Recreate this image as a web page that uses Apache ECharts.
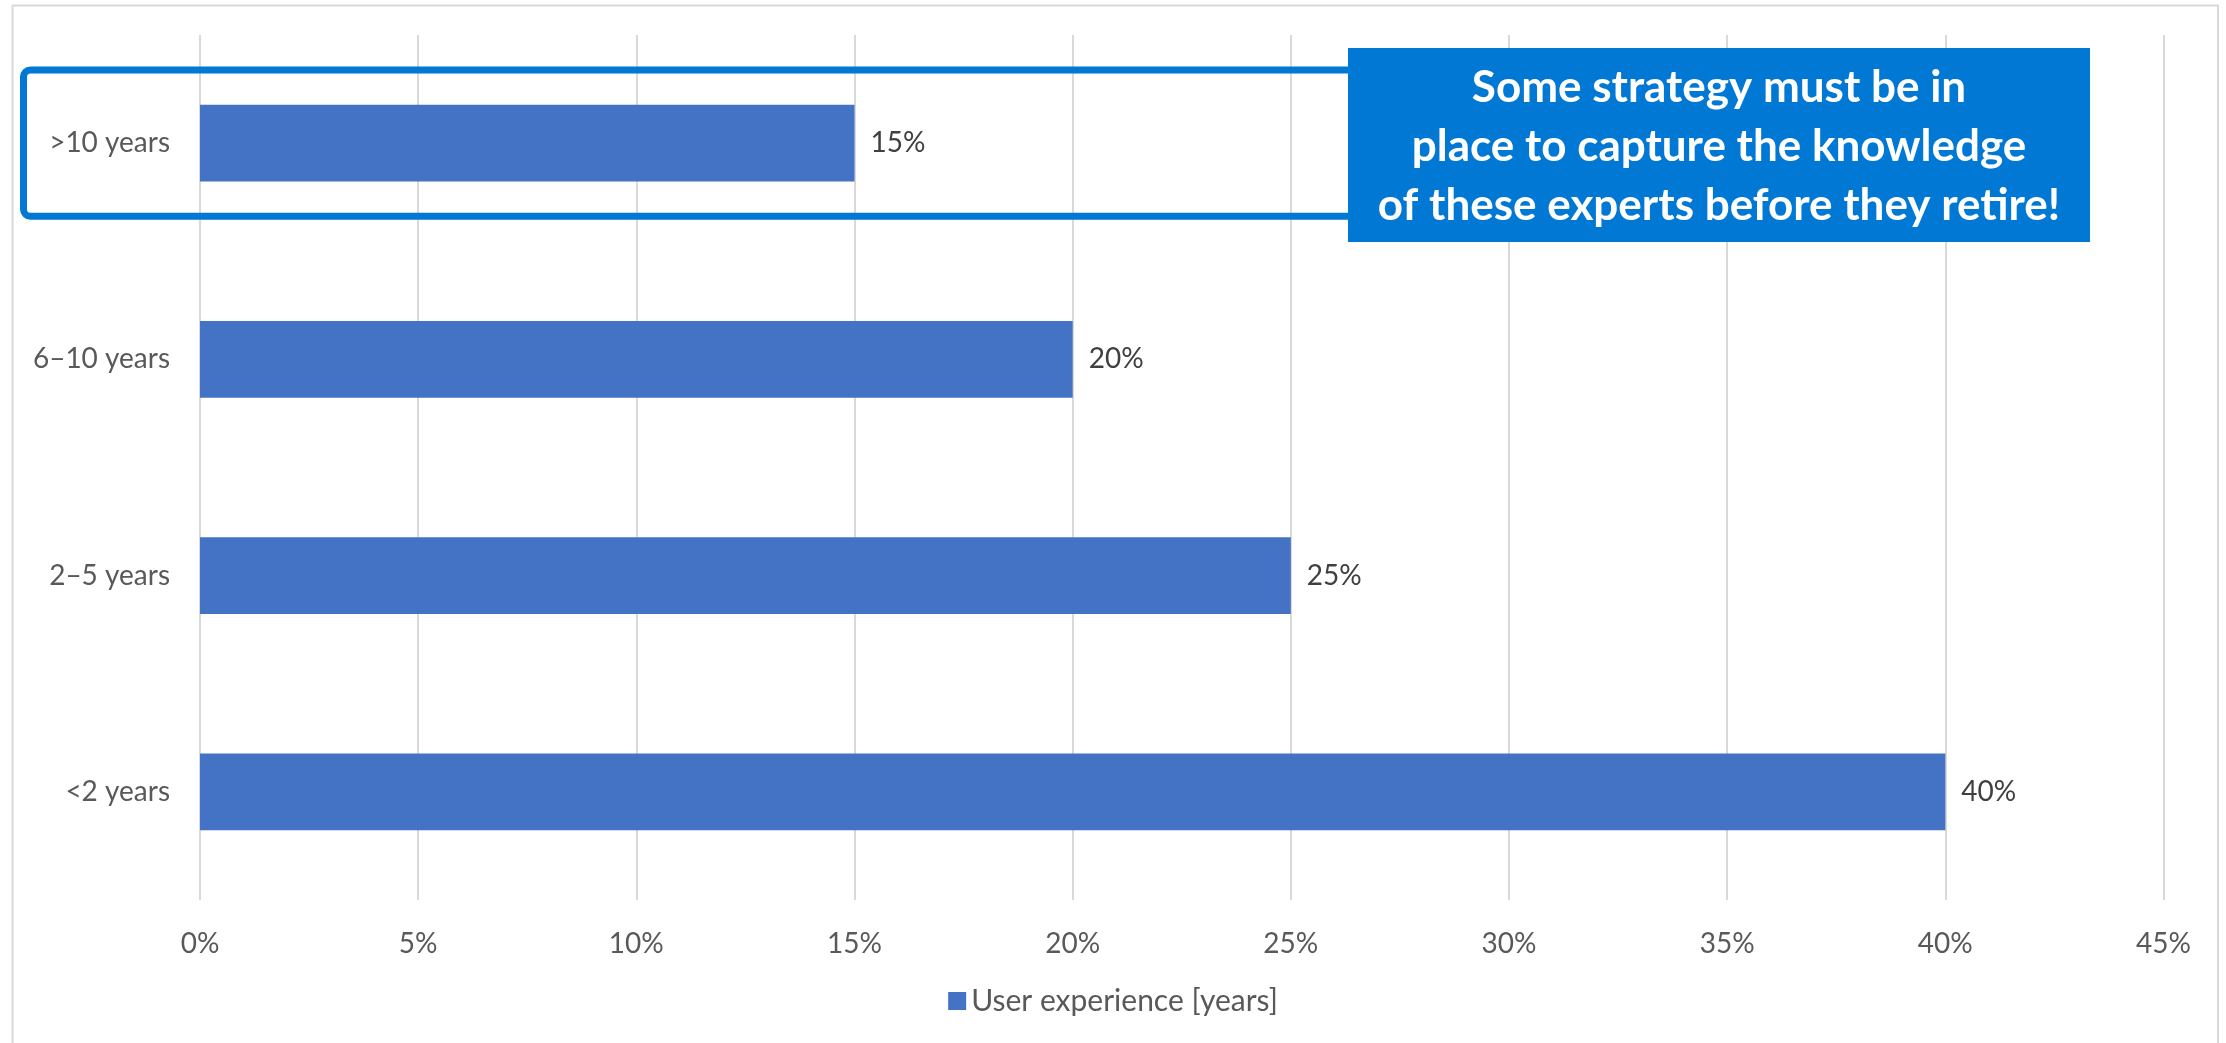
<!DOCTYPE html>
<html>
<head>
<meta charset="utf-8">
<script src="https://cdn.jsdelivr.net/npm/echarts@6/dist/echarts.min.js"></script>
<style>
html,body{margin:0;padding:0;background:#fff;}
#chart{width:2226px;height:1043px;}
</style>
</head>
<body>
<div id="chart"></div>
<script>
// Categories listed bottom-to-top (ECharts category y-axis starts at bottom)
var categories = ['<2 years', '2–5 years', '6–10 years', '>10 years'];
var values = [40, 25, 20, 15];
var seriesName = 'User experience [years]';
var xTicks = [0, 5, 10, 15, 20, 25, 30, 35, 40, 45];
var annotationLines = ['Some strategy must be in', 'place to capture the knowledge', 'of these experts before they retire!'];
var highlightCategory = '>10 years';

var FONT = 'Lato, "Open Sans", sans-serif';
var chart = echarts.init(document.getElementById('chart'), null, {renderer: 'canvas'});

var option = {
  backgroundColor: '#ffffff',
  animation: false,
  grid: {left: 200, right: 62.5, top: 35, bottom: 143, containLabel: false},
  xAxis: {
    type: 'value',
    min: xTicks[0],
    max: xTicks[xTicks.length - 1],
    interval: 5,
    axisLine: {show: false},
    axisTick: {show: false},
    splitLine: {show: true, lineStyle: {color: '#D9D9D9', width: 2}},
    axisLabel: {
      formatter: '{value}%',
      color: '#595959',
      fontFamily: FONT,
      fontSize: 28,
      margin: 30
    }
  },
  yAxis: {
    type: 'category',
    data: categories,
    axisLine: {show: false},
    axisTick: {show: false},
    splitLine: {show: false},
    axisLabel: {
      color: '#595959',
      fontFamily: FONT,
      fontSize: 28,
      margin: 30
    }
  },
  legend: {
    data: [seriesName],
    bottom: 22,
    left: 'center',
    icon: 'rect',
    itemWidth: 18,
    itemHeight: 18,
    itemGap: 8,
    textStyle: {color: '#595959', fontFamily: FONT, fontSize: 30}
  },
  series: [{
    name: seriesName,
    type: 'bar',
    data: values,
    barCategoryGap: '64.5%',
    itemStyle: {color: '#4472C4'},
    label: {
      show: true,
      position: 'right',
      distance: 16,
      formatter: '{c}%',
      color: '#404040',
      fontFamily: FONT,
      fontSize: 28
    },
    z: 3
  }]
};
chart.setOption(option);

function drawAnnotations() {
  var idx = categories.indexOf(highlightCategory);
  var cy = chart.convertToPixel({yAxisIndex: 0}, idx);
  var band = chart.convertToPixel({yAxisIndex: 0}, 0) - chart.convertToPixel({yAxisIndex: 0}, 1);
  var halfH = band * 0.338;
  var boxLeft = 1348, boxRight = 2090, boxTop = 48, boxBottom = 242;
  chart.setOption({
    graphic: [
      {
        type: 'rect',
        z: 1,
        silent: true,
        shape: {x: 12.5, y: 5.5, width: 2205.5, height: 1060},
        style: {fill: null, stroke: '#D9D9D9', lineWidth: 2}
      },
      {
        type: 'rect',
        z: 10,
        silent: true,
        shape: {x: 23.5, y: cy - halfH, width: boxLeft - 23.5 + 20, height: 2 * halfH, r: 7},
        style: {fill: null, stroke: '#0078D4', lineWidth: 7}
      },
      {
        type: 'rect',
        z: 11,
        silent: true,
        shape: {x: boxLeft, y: boxTop, width: boxRight - boxLeft, height: boxBottom - boxTop},
        style: {fill: '#0078D4'}
      },
      {
        type: 'text',
        z: 12,
        silent: true,
        x: (boxLeft + boxRight) / 2,
        y: (boxTop + boxBottom) / 2 + 2,
        style: {
          text: annotationLines.join('\n'),
          fill: '#ffffff',
          font: 'bold 44px ' + FONT,
          align: 'center',
          verticalAlign: 'middle',
          lineHeight: 59
        }
      }
    ]
  });
}
drawAnnotations();
</script>
</body>
</html>
